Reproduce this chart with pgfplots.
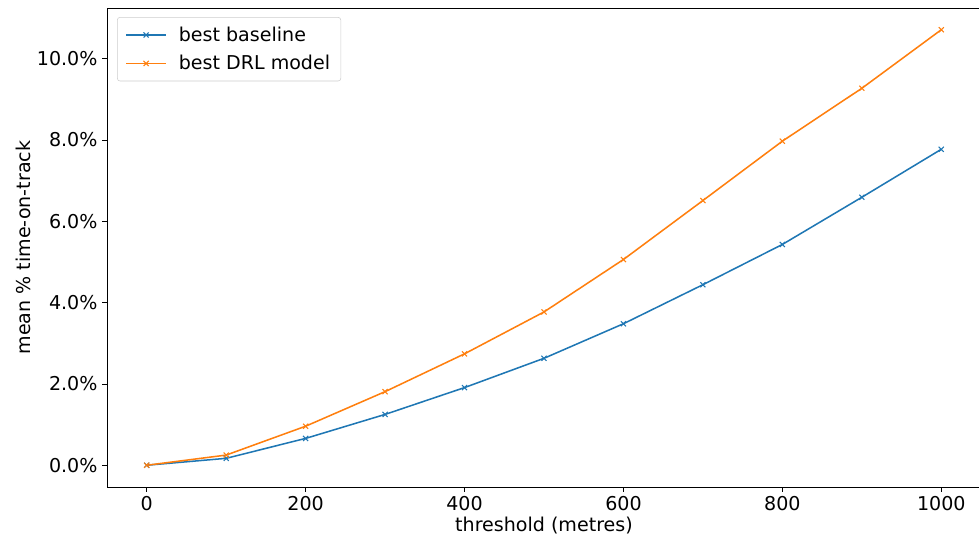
\documentclass[border=0pt]{standalone}
\usepackage{pgfplots}
\pgfplotsset{compat=1.18}
\usepackage{fontspec}
\setmainfont{DejaVu Sans}
\definecolor{tabblue}{HTML}{1F77B4}
\definecolor{taborange}{HTML}{FF7F0E}
\newcommand{\lblfont}{\fontsize{14.3}{17}\selectfont}

\begin{document}
\begin{tikzpicture}
\begin{axis}[
  scale only axis,
  width=655.5pt, height=359.25pt,
  xmin=-50, xmax=1050, ymin=-0.535, ymax=11.245,
  xtick={0,200,...,1000}, ytick={0,2,...,10},
  xticklabel style={/pgf/number format/1000 sep={}},
  yticklabel={\pgfmathprintnumber[fixed,fixed zerofill,precision=1]{\tick}\%},
  /pgf/number format/assume math mode=true,
  tick align=outside, tick pos=left,
  major tick length=3.6pt,
  tick style={black, line width=0.6pt},
  axis line style={black, line width=0.6pt},
  ticklabel style={font=\lblfont},
  label style={font=\lblfont},
  xlabel={threshold (metres)}, ylabel={mean \% time-on-track},
  xlabel style={yshift=2pt}, ylabel style={yshift=-2pt},
  legend style={at={(0.0115,0.981)}, anchor=north west, draw=black!20,
    rounded corners=2pt, font=\lblfont,
    inner xsep=6pt, inner ysep=5pt, row sep=5pt},
  legend cell align=left,
  legend image code/.code={\draw[mark repeat=2,mark phase=2]
    plot coordinates {(0pt,0pt)(15pt,0pt)(30pt,0pt)};
    \path (37pt,0pt);},
]
\addplot[tabblue, line width=1.15pt, mark=x, mark size=2.7pt,
  mark options={line width=0.8pt}] coordinates {
  (0,0) (100,0.17) (200,0.66) (300,1.25) (400,1.91) (500,2.63)
  (600,3.48) (700,4.44) (800,5.43) (900,6.59) (1000,7.77)};
\addlegendentry{best baseline}
\addplot[taborange, line width=1.15pt, mark=x, mark size=2.7pt,
  mark options={line width=0.8pt}] coordinates {
  (0,0) (100,0.25) (200,0.96) (300,1.81) (400,2.74) (500,3.77)
  (600,5.06) (700,6.51) (800,7.97) (900,9.27) (1000,10.71)};
\addlegendentry{best DRL model}
\end{axis}
\pgfresetboundingbox
\path[use as bounding box] (-80.25pt,-36pt) rectangle (654pt,365.25pt);
\end{tikzpicture}
\end{document}
